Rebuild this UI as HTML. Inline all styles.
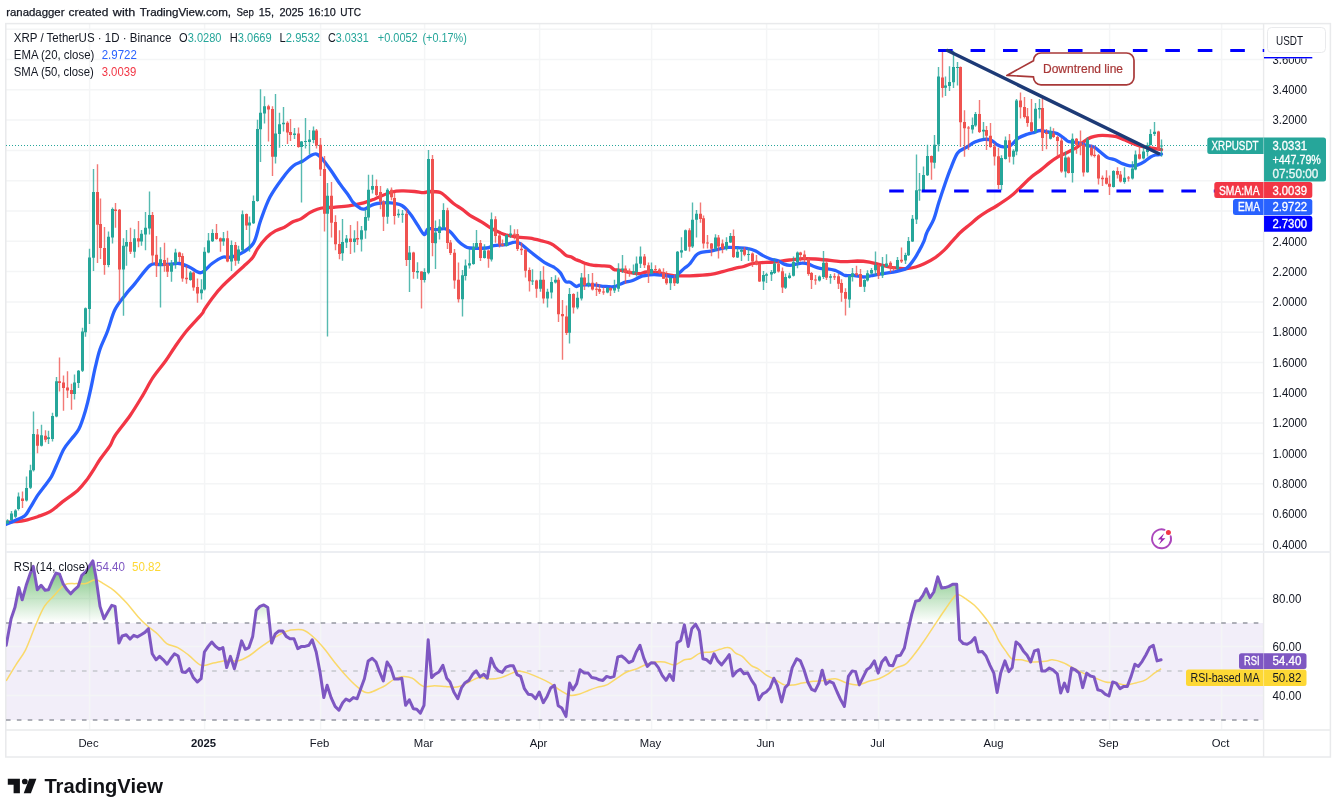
<!DOCTYPE html>
<html lang="en"><head><meta charset="utf-8"><title>XRP / TetherUS chart</title>
<style>html,body{margin:0;padding:0;background:#fff}body{width:1337px;height:810px;overflow:hidden}</style></head>
<body>
<svg width="1337" height="810" viewBox="0 0 1337 810" style="display:block;font-family:'Liberation Sans', sans-serif">
<rect width="1337" height="810" fill="#fff"/>
<defs>
<clipPath id="cpMain"><rect x="6" y="23" width="1257.5" height="528"/></clipPath>
<clipPath id="cpRsi"><rect x="6" y="553" width="1257.5" height="176.5"/></clipPath>
<linearGradient id="gOB" gradientUnits="userSpaceOnUse" x1="0" y1="552" x2="0" y2="622.5"><stop offset="0" stop-color="#4caf50" stop-opacity="0.95"/><stop offset="1" stop-color="#4caf50" stop-opacity="0"/></linearGradient>
</defs>
<rect x="6" y="623" width="1257.5" height="97" fill="#7e57c2" fill-opacity="0.1"/>
<path d="M89.6 23V729.5 M204.6 23V729.5 M320.6 23V729.5 M424.6 23V729.5 M539.6 23V729.5 M651.6 23V729.5 M766.6 23V729.5 M878.6 23V729.5 M994.6 23V729.5 M1109.6 23V729.5 M1221.6 23V729.5 M6 29.2H1263.5 M6 59.5H1263.5 M6 89.8H1263.5 M6 120.1H1263.5 M6 150.4H1263.5 M6 180.7H1263.5 M6 211.0H1263.5 M6 241.3H1263.5 M6 271.6H1263.5 M6 301.9H1263.5 M6 332.2H1263.5 M6 362.5H1263.5 M6 392.8H1263.5 M6 423.1H1263.5 M6 453.4H1263.5 M6 483.7H1263.5 M6 514.0H1263.5 M6 544.3H1263.5 M6 598.5H1263.5 M6 646.5H1263.5 M6 695.5H1263.5" stroke="#f4f5f6" stroke-width="1.5" fill="none"/>
<rect x="5.8" y="23.6" width="1324.6" height="733.4" fill="none" stroke="#e9eaec" stroke-width="1.5"/>
<path d="M1263.6 23V757 M6 730H1330" stroke="#e9eaec" stroke-width="1.4" fill="none"/>
<rect x="6" y="551" width="1324.5" height="2" fill="#eceef2"/>
<path d="M6 623.0H1263.5" stroke="#9598a1" stroke-width="1.6" stroke-dasharray="4.6 6.25" fill="none"/>
<path d="M6 671.0H1263.5" stroke="#c5c7cd" stroke-width="1.6" stroke-dasharray="4.6 6.25" fill="none"/>
<path d="M6 720.0H1263.5" stroke="#9598a1" stroke-width="1.6" stroke-dasharray="4.6 6.25" fill="none"/>
<path d="M6 145.5H1207" stroke="#26a69a" stroke-width="1" stroke-dasharray="1 2" fill="none"/>
<g clip-path="url(#cpMain)">
<path d="M6.3 522.4C7.7 522.3 11.9 522.0 15.0 521.7C18.2 521.4 21.3 521.3 25.1 520.4C28.8 519.6 33.4 518.1 37.6 516.7C41.8 515.2 45.9 514.2 50.1 511.7C54.3 509.2 58.1 505.2 62.7 501.6C67.3 498.1 73.7 493.9 77.7 490.4C81.7 486.8 83.8 483.9 86.5 480.3C89.2 476.8 91.7 472.6 94.0 469.1C96.3 465.5 97.5 463.0 100.3 459.0C103.0 455.1 107.8 449.2 110.3 445.3C112.8 441.3 111.9 440.2 115.3 435.2C118.6 430.2 125.7 421.9 130.3 415.2C134.9 408.5 139.1 401.4 142.9 395.1C146.6 388.9 149.1 383.3 152.9 377.6C156.7 371.8 162.1 365.8 165.7 360.7C169.4 355.6 171.2 352.2 174.7 347.2C178.2 342.2 182.2 336.3 186.7 330.8C191.2 325.3 198.6 317.9 201.6 314.3C204.6 310.7 202.6 312.1 204.6 309.1C206.6 306.1 210.6 300.2 213.6 296.4C216.6 292.5 219.1 289.5 222.6 285.9C226.1 282.3 231.1 277.9 234.5 274.7C238.0 271.4 240.5 269.3 243.5 266.5C246.5 263.6 250.2 260.6 252.5 257.7C254.8 254.8 255.2 252.2 257.5 248.9C259.8 245.5 263.5 240.6 266.5 237.6C269.4 234.6 272.4 232.6 275.4 230.9C278.4 229.2 281.4 228.7 284.4 227.2C287.4 225.6 290.6 223.0 293.4 221.6C296.1 220.3 298.1 220.4 300.9 218.9C303.6 217.4 307.1 214.3 309.8 212.7C312.6 211.0 314.8 210.0 317.3 209.2C319.8 208.4 322.1 208.0 324.8 207.7C327.5 207.4 329.8 207.6 333.8 207.3C337.8 206.9 343.7 206.5 348.7 205.8C353.7 205.0 359.4 203.9 363.7 202.8C367.9 201.7 371.4 200.2 374.2 199.2C376.9 198.1 377.2 197.6 380.1 196.4C383.1 195.2 388.4 192.9 392.1 192.0C395.8 191.0 398.8 191.0 402.6 190.9C406.3 190.8 411.1 191.2 414.5 191.5C418.0 191.8 421.0 192.7 423.5 192.7C426.0 192.7 426.8 191.6 429.5 191.5C432.2 191.5 437.2 191.5 440.0 192.4C442.7 193.3 443.7 194.9 446.0 196.7C448.2 198.6 450.7 201.3 453.5 203.5C456.2 205.6 459.7 207.5 462.4 209.4C465.2 211.4 466.7 213.3 469.9 215.4C473.2 217.5 478.4 220.0 481.9 222.2C485.4 224.3 487.9 226.4 490.9 228.1C493.9 229.9 497.3 231.5 499.8 232.6C502.3 233.8 502.8 234.1 505.8 234.9C508.8 235.6 513.8 236.6 517.8 237.1C521.8 237.7 525.8 237.5 529.8 238.2C533.7 238.8 538.2 240.0 541.7 240.9C545.2 241.8 547.7 242.1 550.7 243.6C553.7 245.0 557.1 247.9 559.7 249.8C562.2 251.8 564.1 254.1 566.0 255.3C567.8 256.5 569.2 256.1 570.8 256.8C572.4 257.5 574.0 258.7 575.6 259.5C577.2 260.2 578.8 260.6 580.4 261.3C582.0 261.9 583.6 262.8 585.1 263.4C586.7 263.9 588.1 264.2 589.9 264.6C591.7 264.9 593.9 265.3 595.9 265.5C597.9 265.7 599.6 265.7 601.9 265.9C604.2 266.0 607.7 265.8 609.7 266.4C611.7 267.0 612.6 268.8 613.9 269.4C615.2 270.0 616.1 269.8 617.5 270.0C618.9 270.2 620.4 270.3 622.3 270.7C624.2 271.1 626.8 271.9 628.9 272.4C631.0 272.8 633.0 273.1 634.9 273.3C636.7 273.5 638.1 273.8 640.1 273.6C642.0 273.4 643.6 272.2 646.5 272.0C649.3 271.9 653.7 272.1 656.9 272.5C660.2 272.9 662.9 273.7 665.9 274.3C668.9 274.8 670.9 275.5 674.9 275.8C678.9 276.0 683.9 276.0 689.8 275.8C695.8 275.5 705.3 275.0 710.8 274.3C716.3 273.6 718.8 272.6 722.7 271.6C726.7 270.6 731.2 269.1 734.7 268.3C738.2 267.5 740.7 267.3 743.7 266.5C746.7 265.7 749.7 264.2 752.7 263.5C755.7 262.9 758.1 262.9 761.6 262.6C765.1 262.4 770.1 262.3 773.6 262.0C777.1 261.7 779.3 261.2 782.6 260.8C785.8 260.4 789.6 260.0 793.1 259.6C796.5 259.2 799.8 258.7 803.5 258.6C807.3 258.5 810.7 258.7 815.5 259.0C820.2 259.4 827.2 260.1 832.0 260.6C836.7 261.0 839.7 261.6 843.9 261.6C848.2 261.7 853.2 261.0 857.4 261.0C861.6 261.1 865.6 261.5 869.4 262.1C873.1 262.7 876.6 263.8 879.8 264.6C883.1 265.4 885.8 266.4 888.8 267.0C891.8 267.6 894.8 267.8 897.8 268.1C900.8 268.3 903.8 268.7 906.8 268.5C909.8 268.3 912.7 267.8 915.7 267.0C918.7 266.2 921.5 265.1 924.7 263.6C928.0 262.0 931.9 259.8 935.2 257.6C938.4 255.3 941.4 252.7 944.2 250.1C946.9 247.5 948.9 244.9 951.6 241.9C954.4 238.9 957.6 235.0 960.6 232.2C963.6 229.3 966.6 227.2 969.6 224.7C972.6 222.2 975.6 219.4 978.6 217.2C981.6 215.0 984.5 213.1 987.5 211.2C990.5 209.3 992.7 208.5 996.5 206.0C1000.4 203.5 1006.8 199.3 1010.7 196.3C1014.6 193.3 1016.2 191.3 1019.7 188.1C1023.2 184.8 1028.1 179.8 1031.6 176.8C1035.1 173.9 1037.6 172.5 1040.6 170.1C1043.6 167.7 1046.8 164.8 1049.6 162.6C1052.3 160.5 1054.6 158.9 1057.1 157.4C1059.6 155.9 1061.4 155.2 1064.5 153.7C1067.7 152.1 1072.8 149.8 1076.0 147.9C1079.1 145.9 1081.0 143.6 1083.5 141.9C1086.0 140.1 1088.4 138.4 1090.9 137.4C1093.4 136.4 1095.7 135.9 1098.4 135.6C1101.2 135.3 1104.4 135.4 1107.4 135.6C1110.4 135.8 1113.6 136.0 1116.4 136.6C1119.1 137.3 1121.1 138.5 1123.9 139.6C1126.6 140.8 1129.8 142.3 1132.8 143.4C1135.8 144.5 1138.8 145.6 1141.8 146.4C1144.8 147.1 1147.5 147.3 1150.8 147.9C1154.1 148.4 1159.8 149.4 1161.5 149.7" stroke="#f23645" stroke-width="3.3" fill="none" stroke-linejoin="round" stroke-linecap="round"/>
<path d="M6.3 524.2C7.7 523.6 11.9 521.9 15.0 520.4C18.2 519.0 22.6 517.5 25.1 515.4C27.6 513.3 28.0 511.2 30.1 507.9C32.2 504.6 35.1 499.1 37.6 495.4C40.1 491.6 42.8 488.5 45.1 485.4C47.4 482.2 49.3 480.3 51.4 476.6C53.5 472.8 55.6 467.4 57.6 462.8C59.7 458.2 61.6 453.0 63.9 449.0C66.2 445.0 68.9 442.3 71.4 439.0C73.9 435.6 76.6 433.6 78.9 429.0C81.2 424.4 83.3 417.7 85.2 411.4C87.1 405.2 88.6 398.7 90.2 391.4C91.9 384.1 93.6 374.5 95.2 367.6C96.9 360.6 97.9 355.5 99.9 349.5C101.9 343.5 104.9 338.1 107.4 331.5C109.9 324.9 111.9 315.9 114.9 309.8C117.9 303.7 122.1 299.1 125.3 294.9C128.6 290.6 130.2 289.3 134.3 284.4C138.4 279.5 145.8 268.7 150.0 265.4C154.3 262.1 156.1 264.9 159.8 264.7C163.4 264.5 168.5 264.4 171.7 264.2C175.0 264.0 176.2 263.0 179.2 263.5C182.2 264.0 186.1 265.7 189.7 267.2C193.3 268.7 197.2 273.4 200.9 272.7C204.6 272.1 208.5 266.1 212.1 263.5C215.7 260.9 219.8 258.2 222.6 257.2C225.3 256.2 225.8 257.9 228.6 257.5C231.3 257.0 234.9 256.8 239.0 254.5C243.1 252.2 249.6 249.2 253.2 243.5C256.9 237.8 257.9 228.0 260.7 220.3C263.5 212.6 266.3 204.2 270.0 197.1C273.7 190.0 279.0 183.0 282.9 177.7C286.8 172.5 290.1 168.5 293.4 165.8C296.6 163.0 299.4 163.0 302.4 161.3C305.3 159.5 309.0 156.5 311.3 155.3C313.7 154.1 314.8 153.6 316.6 154.1C318.3 154.6 319.4 155.6 321.8 158.3C324.2 161.0 327.8 166.0 330.8 170.3C333.8 174.5 336.8 179.5 339.8 183.7C342.7 188.0 346.5 192.6 348.7 195.7C351.0 198.8 351.2 200.4 353.2 202.5C355.2 204.6 358.7 207.4 360.7 208.5C362.7 209.5 363.4 209.3 365.2 208.8C366.9 208.3 369.2 206.3 371.2 205.5C373.2 204.6 373.9 204.0 377.2 203.5C380.4 203.1 386.5 202.5 390.6 202.8C394.7 203.1 398.6 203.7 401.8 205.5C405.1 207.3 407.4 210.5 410.1 213.7C412.7 216.9 415.2 221.4 417.5 224.9C419.9 228.4 422.5 234.0 424.3 234.6C426.0 235.3 426.1 229.5 428.0 228.7C429.9 227.8 432.7 229.7 435.5 229.7C438.2 229.7 442.0 228.3 444.5 228.7C447.0 229.0 448.2 229.9 450.5 231.9C452.7 233.9 455.7 238.6 458.0 240.9C460.2 243.2 461.9 244.5 463.9 245.6C465.9 246.8 466.2 247.6 469.9 248.0C473.7 248.4 482.4 248.4 486.4 248.0C490.4 247.6 490.6 246.2 493.9 245.6C497.1 245.1 502.3 245.2 505.8 244.6C509.3 244.0 512.3 242.2 514.8 242.1C517.3 241.9 518.3 242.3 520.8 243.9C523.3 245.4 525.8 248.2 529.8 251.3C533.7 254.4 540.7 259.9 544.7 262.6C548.7 265.2 551.1 265.4 553.7 267.0C556.2 268.7 558.0 270.0 560.0 272.4C562.0 274.8 563.7 279.7 565.4 281.3C567.1 283.0 568.4 281.4 570.2 282.2C572.0 283.1 574.6 285.9 576.2 286.4C577.8 286.9 578.0 285.5 579.8 285.2C581.6 285.0 584.3 284.9 586.9 284.9C589.6 284.9 592.9 285.0 595.9 285.2C598.9 285.5 601.9 286.2 604.9 286.4C607.9 286.7 611.4 287.1 613.9 286.7C616.4 286.4 618.0 285.1 619.9 284.3C621.8 283.6 623.3 282.8 625.3 282.2C627.3 281.6 629.4 281.6 631.9 280.7C634.3 279.9 638.1 277.7 640.1 276.9C642.0 276.0 641.2 276.2 643.5 275.8C645.8 275.4 650.4 274.6 653.9 274.6C657.4 274.5 660.9 275.2 664.4 275.5C667.9 275.8 672.4 277.0 674.9 276.5C677.4 276.1 677.6 274.3 679.4 272.8C681.1 271.3 683.6 269.0 685.3 267.6C687.1 266.1 688.1 265.8 689.8 263.8C691.6 261.8 694.1 257.5 695.8 255.6C697.6 253.7 697.8 253.3 700.3 252.6C702.8 251.8 707.5 251.7 710.8 251.1C714.0 250.5 716.8 249.5 719.8 248.9C722.7 248.2 725.7 247.6 728.7 247.4C731.7 247.2 734.5 247.5 737.7 247.7C740.9 247.9 745.2 248.0 748.2 248.6C751.2 249.1 753.2 249.9 755.7 251.1C758.1 252.3 760.6 254.3 763.1 255.6C765.6 256.9 768.1 258.2 770.6 259.0C773.1 259.9 775.8 260.0 778.1 260.8C780.3 261.7 782.1 263.4 784.1 264.1C786.1 264.9 788.1 265.3 790.1 265.3C792.1 265.3 794.0 264.5 796.0 264.1C798.0 263.7 800.0 263.1 802.0 263.1C804.0 263.0 806.0 263.2 808.0 263.8C810.0 264.4 812.0 265.8 814.0 266.5C816.0 267.3 817.7 267.9 820.0 268.3C822.2 268.7 825.0 268.5 827.5 268.8C830.0 269.1 832.7 269.6 835.0 270.3C837.2 271.1 839.2 272.4 840.9 273.3C842.7 274.2 843.2 275.2 845.4 275.5C847.7 275.9 851.4 275.3 854.4 275.5C857.4 275.8 860.4 277.0 863.4 277.0C866.4 277.0 869.1 276.1 872.4 275.5C875.6 275.0 879.3 274.2 882.8 273.6C886.3 273.0 890.3 272.7 893.3 272.1C896.3 271.6 898.5 271.0 900.8 270.3C903.0 269.6 904.8 269.6 906.8 268.1C908.8 266.6 910.8 264.1 912.7 261.3C914.7 258.6 916.9 255.0 918.7 251.6C920.6 248.2 922.6 244.4 924.0 241.1C925.3 237.9 925.3 235.8 927.0 232.2C928.6 228.5 931.7 224.4 933.7 219.4C935.7 214.5 937.0 208.1 938.9 202.3C940.8 196.4 942.9 190.1 944.9 184.3C946.9 178.6 948.7 173.1 950.9 167.9C953.0 162.6 955.1 156.3 957.6 152.9C960.1 149.5 963.0 149.5 965.8 147.7C968.7 145.9 971.8 143.5 974.8 142.1C977.8 140.8 981.0 139.8 983.8 139.4C986.5 139.1 989.0 139.3 991.2 140.2C993.5 141.1 995.2 143.6 997.2 144.7C999.2 145.8 1001.0 146.8 1003.2 146.9C1005.5 147.1 1008.2 146.9 1010.7 145.4C1013.2 144.0 1015.4 140.1 1018.2 138.2C1020.9 136.4 1024.4 135.2 1027.2 134.2C1029.9 133.2 1032.5 132.9 1034.6 132.3C1036.7 131.6 1037.6 130.5 1039.9 130.5C1042.1 130.4 1045.2 131.5 1048.1 132.0C1051.0 132.5 1054.3 132.3 1057.1 133.5C1059.8 134.6 1062.6 137.3 1064.5 138.7C1066.5 140.1 1066.9 141.0 1069.0 141.7C1071.2 142.3 1074.8 142.1 1077.5 142.6C1080.1 143.2 1082.2 144.1 1085.0 144.9C1087.7 145.6 1091.4 146.0 1093.9 147.1C1096.4 148.2 1097.7 149.9 1099.9 151.6C1102.2 153.4 1104.9 156.2 1107.4 157.6C1109.9 159.0 1112.4 158.8 1114.9 159.8C1117.4 160.8 1119.9 162.6 1122.4 163.6C1124.8 164.6 1127.3 165.6 1129.8 165.8C1132.3 166.1 1134.8 165.8 1137.3 165.1C1139.8 164.3 1142.6 162.7 1144.8 161.3C1147.0 160.0 1149.0 157.9 1150.8 156.8C1152.5 155.8 1153.5 155.5 1155.3 155.0C1157.1 154.6 1160.5 154.3 1161.5 154.2" stroke="#2962ff" stroke-width="3.3" fill="none" stroke-linejoin="round" stroke-linecap="round"/>
<path d="M7.5 519.2V523.9M11.5 510.9V520.4M15.5 509.2V517.9M18.5 492.4V510.4M26.5 476.6V501.6M30.5 464.8V489.1M33.5 411.4V471.6M41.5 424.7V446.5M48.5 430.7V444.0M52.5 412.7V441.5M56.5 377.1V417.2M74.5 374.6V399.6M78.5 370.1V388.1M82.5 327.8V372.1M85.5 307.6V336.8M89.5 248.7V324.0M93.5 169.1V270.9M108.5 231.5V267.2M112.5 207.6V243.5M123.5 238.3V315.8M126.5 230.0V265.7M134.5 229.3V257.8M141.5 230.0V245.7M145.5 212.1V250.2M149.5 191.6V234.5M160.5 247.2V307.6M171.5 259.9V281.7M175.5 248.7V268.7M190.5 270.9V280.7M201.5 279.2V299.4M204.5 247.2V290.4M208.5 233.0V253.2M212.5 229.3V242.0M223.5 232.0V245.7M231.5 240.5V270.9M238.5 245.7V263.8M242.5 210.6V251.7M249.5 216.6V251.7M253.5 195.6V224.0M257.5 119.7V201.7M260.5 89.2V162.0M264.5 96.2V123.6M275.5 94.0V163.5M279.5 112.7V147.8M283.5 107.1V131.4M294.5 128.1V138.9M301.5 141.1V202.4M305.5 117.9V148.6M309.5 129.9V154.6M313.5 126.6V143.3M327.5 183.0V336.4M342.5 218.9V260.8M346.5 235.1V248.1M354.5 230.2V252.6M361.5 226.1V251.5M365.5 209.2V238.7M368.5 174.8V220.7M372.5 174.8V193.5M387.5 188.2V223.7M398.5 209.2V217.7M402.5 210.0V222.7M409.5 245.9V291.9M417.5 262.3V278.8M424.5 268.3V282.5M428.5 150.1V274.3M435.5 220.4V269.0M439.5 219.2V239.6M443.5 203.2V229.7M462.5 270.0V316.4M465.5 259.6V280.5M469.5 249.1V268.5M473.5 243.1V264.8M476.5 230.1V248.3M484.5 244.2V258.5M491.5 212.4V261.5M506.5 234.6V246.5M510.5 225.2V237.9M532.5 269.3V285.0M540.5 271.1V291.7M547.5 288.7V307.4M551.5 277.1V298.5M555.5 275.3V283.5M569.5 288.0V343.6M577.5 291.7V309.2M581.5 273.0V300.4M588.5 274.1V287.2M607.5 286.9V293.2M614.5 279.8V292.9M618.5 263.3V291.7M622.5 255.1V273.0M633.5 264.6V275.0M636.5 256.6V276.5M640.5 246.6V268.0M651.5 262.6V274.3M670.5 277.0V290.0M677.5 251.1V284.0M681.5 237.2V257.8M685.5 229.4V251.1M692.5 202.5V248.1M696.5 210.0V237.6M715.5 234.2V251.1M726.5 237.2V250.6M730.5 233.1V242.9M737.5 247.1V258.1M741.5 247.4V261.1M748.5 248.1V261.1M763.5 271.0V290.0M766.5 272.8V283.0M771.5 270.1V281.0M774.5 258.6V274.0M785.5 273.5V288.9M789.5 272.8V278.8M793.5 256.6V276.5M797.5 251.5V268.3M819.5 275.5V281.5M823.5 250.9V279.0M830.5 274.0V283.8M849.5 275.5V307.7M852.5 268.1V281.5M864.5 279.3V292.0M867.5 270.3V281.5M871.5 268.1V274.8M875.5 251.6V275.5M882.5 257.1V278.1M886.5 254.2V267.3M897.5 257.1V270.0M905.5 252.7V264.0M908.5 237.1V256.1M912.5 215.0V241.9M916.5 154.4V224.0M919.5 173.1V200.8M923.5 166.4V191.1M927.5 144.7V176.1M934.5 135.0V168.6M938.5 66.9V151.4M945.5 76.6V96.1M949.5 66.2V90.9M953.5 50.8V87.9M957.5 62.1V85.6M972.5 117.5V133.5M975.5 112.1V126.8M983.5 122.0V138.7M1001.5 155.2V190.3M1005.5 136.5V159.6M1013.5 149.2V164.6M1016.5 99.1V155.2M1035.5 103.1V133.5M1039.5 99.1V118.5M1050.5 126.8V139.5M1065.5 151.4V177.6M1072.5 133.5V182.5M1087.5 137.2V172.7M1113.5 170.3V187.5M1124.5 167.3V183.8M1132.5 161.3V179.6M1135.5 150.6V170.3M1143.5 147.9V159.5M1147.5 142.6V156.5M1150.5 129.2V145.6M1154.5 122.1V135.9M1161.5 139.6V156.8" stroke="#26a69a" stroke-width="1.4" stroke-opacity="0.78" fill="none"/>
<path d="M22.5 491.6V507.9M37.5 429.0V453.3M45.5 430.2V442.2M59.5 357.5V391.4M63.5 375.6V410.7M67.5 371.3V398.1M71.5 383.8V409.7M97.5 164.2V262.9M100.5 198.6V259.0M104.5 227.0V274.7M115.5 203.1V227.8M119.5 209.1V301.6M130.5 227.8V254.0M138.5 221.1V247.2M152.5 212.1V263.5M156.5 236.0V276.9M164.5 242.7V271.7M167.5 257.7V276.9M179.5 251.7V262.0M182.5 253.2V281.7M186.5 265.7V283.7M193.5 271.4V290.7M197.5 278.4V302.7M216.5 224.0V239.8M220.5 237.5V251.7M227.5 230.8V262.2M235.5 242.0V265.7M246.5 213.6V230.0M268.5 104.7V141.5M272.5 106.2V175.9M287.5 121.2V144.1M290.5 119.1V141.1M298.5 127.6V147.8M316.5 129.1V148.6M320.5 138.1V175.9M324.5 156.1V231.6M331.5 181.9V237.6M335.5 215.2V250.3M339.5 230.2V259.3M350.5 224.9V254.1M357.5 221.2V245.1M376.5 179.5V196.4M380.5 186.0V209.2M383.5 200.2V230.9M391.5 187.5V200.2M394.5 192.7V224.6M406.5 209.2V266.1M413.5 251.8V278.8M421.5 271.3V308.4M432.5 155.0V256.3M447.5 207.7V249.1M450.5 240.1V255.1M454.5 249.1V288.7M458.5 262.6V302.5M480.5 240.1V261.1M488.5 249.5V267.8M495.5 216.2V242.7M499.5 233.4V247.6M502.5 239.4V246.5M514.5 229.2V239.4M517.5 229.2V251.0M521.5 242.4V255.1M525.5 249.1V277.5M529.5 267.5V291.4M536.5 279.8V297.7M543.5 266.3V303.4M558.5 277.5V322.1M562.5 299.9V359.8M566.5 305.6V335.1M573.5 293.2V313.4M584.5 264.8V289.9M592.5 273.0V290.5M596.5 282.0V295.9M599.5 284.2V294.0M603.5 287.2V294.7M610.5 287.2V295.9M625.5 265.5V283.9M629.5 268.5V276.8M644.5 254.1V268.0M648.5 262.6V283.0M655.5 265.3V272.8M659.5 268.3V274.3M663.5 268.3V279.1M666.5 271.3V284.8M674.5 275.0V285.9M689.5 228.2V251.5M700.5 202.5V222.7M703.5 215.6V248.6M707.5 235.1V248.6M711.5 242.9V256.3M718.5 235.1V258.6M722.5 239.6V253.3M733.5 229.4V258.1M744.5 247.1V256.3M752.5 252.6V267.1M756.5 255.1V265.3M759.5 263.5V282.1M778.5 260.8V272.5M782.5 267.6V293.0M800.5 251.8V261.6M804.5 250.6V262.3M808.5 257.8V275.8M811.5 272.0V288.9M815.5 275.0V284.8M826.5 261.3V280.0M834.5 273.3V280.0M838.5 274.0V289.0M841.5 279.3V301.7M845.5 288.3V315.5M856.5 265.8V276.3M860.5 269.1V287.1M878.5 264.3V279.0M890.5 261.3V272.6M893.5 266.6V271.1M901.5 247.6V263.1M931.5 155.6V179.8M942.5 50.5V97.6M960.5 66.6V146.9M964.5 110.3V156.7M968.5 126.0V149.9M979.5 100.1V133.0M986.5 126.0V149.9M990.5 123.0V147.7M994.5 143.2V165.6M998.5 147.7V189.1M1009.5 133.9V162.6M1020.5 92.4V118.5M1024.5 97.1V118.5M1027.5 108.1V126.8M1031.5 99.1V132.0M1042.5 97.1V151.0M1046.5 129.0V149.2M1053.5 128.3V138.0M1057.5 135.7V156.6M1061.5 138.0V172.7M1068.5 156.6V173.6M1076.5 138.0V153.7M1080.5 130.5V155.2M1083.5 142.4V176.5M1091.5 144.7V156.6M1094.5 146.2V157.4M1098.5 153.9V184.5M1102.5 175.5V186.0M1106.5 170.3V184.5M1109.5 175.5V195.0M1117.5 167.3V178.5M1120.5 171.1V182.6M1128.5 176.0V181.5M1139.5 145.6V159.5M1158.5 130.7V150.1" stroke="#ef5350" stroke-width="1.4" stroke-opacity="0.78" fill="none"/>
<path d="M6 520.4h3v3.0h-3zM10 513.4h3v6.5h-3zM14 510.4h3v6.3h-3zM17 496.6h3v12.5h-3zM25 487.9h3v12.5h-3zM29 470.3h3v17.5h-3zM32 434.0h3v36.3h-3zM40 435.2h3v10.5h-3zM47 437.2h3v1.8h-3zM51 415.9h3v23.1h-3zM55 381.3h3v35.1h-3zM73 382.6h3v11.3h-3zM77 370.8h3v12.3h-3zM81 331.5h3v39.3h-3zM84 308.3h3v23.9h-3zM88 257.5h3v51.6h-3zM92 191.9h3v65.8h-3zM107 236.8h3v28.2h-3zM111 209.1h3v28.4h-3zM122 245.7h3v23.7h-3zM125 242.0h3v4.5h-3zM133 238.3h3v13.5h-3zM140 233.8h3v7.8h-3zM144 227.8h3v6.7h-3zM148 215.1h3v13.5h-3zM159 259.2h3v6.5h-3zM170 263.5h3v8.2h-3zM174 252.5h3v11.0h-3zM189 272.4h3v7.5h-3zM200 289.6h3v3.7h-3zM203 251.7h3v37.9h-3zM207 240.5h3v12.0h-3zM211 233.0h3v8.2h-3zM222 238.3h3v3.3h-3zM230 245.0h3v16.5h-3zM237 249.5h3v11.2h-3zM241 214.3h3v35.9h-3zM248 222.6h3v3.0h-3zM252 200.9h3v22.4h-3zM256 129.1h3v71.8h-3zM259 112.7h3v16.5h-3zM263 106.2h3v7.2h-3zM274 133.6h3v23.2h-3zM278 124.2h3v9.9h-3zM282 122.7h3v1.5h-3zM293 133.6h3v1.5h-3zM300 141.5h3v5.5h-3zM304 141.1h3v1.0h-3zM308 139.6h3v2.5h-3zM312 130.6h3v9.4h-3zM326 195.7h3v18.0h-3zM341 242.1h3v11.2h-3zM345 238.4h3v4.2h-3zM353 238.4h3v3.7h-3zM360 230.2h3v9.4h-3zM364 217.1h3v13.5h-3zM367 189.7h3v27.7h-3zM371 186.0h3v3.7h-3zM386 189.7h3v27.0h-3zM397 213.7h3v1.5h-3zM401 213.7h3v1.0h-3zM408 252.6h3v7.5h-3zM416 271.0h3v1.5h-3zM423 272.0h3v7.9h-3zM427 159.0h3v113.7h-3zM434 232.4h3v10.8h-3zM438 226.4h3v6.7h-3zM442 210.0h3v17.2h-3zM461 275.3h3v23.9h-3zM464 265.5h3v10.5h-3zM468 263.3h3v2.2h-3zM472 247.1h3v16.9h-3zM475 243.1h3v4.5h-3zM483 250.6h3v7.5h-3zM490 219.2h3v40.4h-3zM505 234.9h3v10.8h-3zM509 233.4h3v1.8h-3zM531 280.5h3v1.0h-3zM539 279.8h3v9.0h-3zM546 291.7h3v6.7h-3zM550 282.0h3v10.5h-3zM554 279.8h3v2.7h-3zM568 293.9h3v38.9h-3zM576 297.7h3v9.7h-3zM580 277.5h3v20.9h-3zM587 282.7h3v2.2h-3zM606 288.0h3v4.5h-3zM613 288.0h3v2.5h-3zM617 269.3h3v19.4h-3zM621 268.5h3v1.5h-3zM632 271.3h3v2.2h-3zM635 263.5h3v8.5h-3zM639 256.6h3v7.2h-3zM650 269.0h3v4.5h-3zM669 278.0h3v5.2h-3zM676 251.8h3v31.4h-3zM680 250.3h3v2.2h-3zM684 230.2h3v20.2h-3zM691 219.7h3v26.9h-3zM695 213.7h3v6.0h-3zM714 237.6h3v11.2h-3zM725 242.1h3v6.7h-3zM729 236.1h3v6.4h-3zM736 251.8h3v5.7h-3zM740 250.0h3v1.8h-3zM747 254.1h3v1.0h-3zM762 275.0h3v6.4h-3zM765 274.3h3v1.5h-3zM770 272.0h3v2.5h-3zM773 263.5h3v9.6h-3zM784 277.0h3v10.8h-3zM788 275.5h3v2.5h-3zM792 262.0h3v13.8h-3zM796 252.6h3v9.7h-3zM818 276.5h3v4.0h-3zM822 262.8h3v14.2h-3zM829 276.3h3v1.5h-3zM848 276.3h3v23.2h-3zM851 273.3h3v3.7h-3zM863 280.0h3v6.7h-3zM866 273.3h3v7.2h-3zM870 270.0h3v3.6h-3zM874 265.1h3v5.2h-3zM881 265.8h3v9.7h-3zM885 263.6h3v3.0h-3zM896 260.1h3v8.7h-3zM904 255.0h3v5.5h-3zM907 241.1h3v14.2h-3zM911 218.7h3v22.9h-3zM915 190.3h3v29.2h-3zM918 189.6h3v1.0h-3zM922 175.0h3v15.3h-3zM926 155.9h3v19.4h-3zM933 144.7h3v18.0h-3zM937 76.6h3v68.0h-3zM944 85.6h3v2.2h-3zM948 81.9h3v4.2h-3zM952 66.9h3v15.3h-3zM956 66.9h3v1.0h-3zM971 125.0h3v4.5h-3zM974 114.0h3v11.5h-3zM982 129.8h3v1.8h-3zM1000 158.1h3v26.9h-3zM1004 140.2h3v18.7h-3zM1012 150.7h3v6.0h-3zM1015 100.6h3v50.8h-3zM1034 108.8h3v22.4h-3zM1038 108.1h3v1.5h-3zM1049 131.2h3v7.5h-3zM1064 157.4h3v14.2h-3zM1071 138.7h3v34.4h-3zM1086 139.4h3v32.9h-3zM1112 171.1h3v16.0h-3zM1123 177.8h3v4.2h-3zM1131 168.5h3v10.0h-3zM1134 154.6h3v15.0h-3zM1142 151.6h3v7.0h-3zM1146 144.9h3v7.2h-3zM1149 134.1h3v10.8h-3zM1153 131.7h3v2.4h-3zM1160 145.5h3v1.0h-3z" fill="#26a69a"/>
<path d="M21 498.4h3v2.5h-3zM36 434.5h3v11.3h-3zM44 435.7h3v4.0h-3zM58 381.3h3v1.8h-3zM62 382.6h3v5.5h-3zM66 387.6h3v3.0h-3zM70 390.1h3v3.8h-3zM96 191.9h3v32.9h-3zM99 224.0h3v23.9h-3zM103 248.0h3v17.0h-3zM114 209.5h3v1.5h-3zM118 209.8h3v59.6h-3zM129 242.0h3v9.7h-3zM137 238.3h3v3.3h-3zM151 215.1h3v40.4h-3zM155 254.7h3v11.0h-3zM163 259.9h3v5.8h-3zM166 264.2h3v7.5h-3zM178 252.5h3v4.6h-3zM181 256.0h3v22.4h-3zM185 277.7h3v1.5h-3zM192 272.4h3v15.0h-3zM196 287.1h3v6.3h-3zM215 233.0h3v6.0h-3zM219 238.3h3v3.3h-3zM226 238.3h3v23.2h-3zM234 245.0h3v15.7h-3zM245 214.0h3v11.5h-3zM267 106.2h3v3.4h-3zM271 108.9h3v47.9h-3zM286 122.7h3v9.9h-3zM289 132.1h3v3.0h-3zM297 133.6h3v13.5h-3zM315 130.6h3v15.0h-3zM319 144.8h3v24.7h-3zM323 169.1h3v44.6h-3zM330 195.7h3v27.0h-3zM334 221.9h3v22.4h-3zM338 244.1h3v10.0h-3zM349 238.4h3v3.7h-3zM356 238.1h3v1.5h-3zM375 186.0h3v9.0h-3zM379 192.0h3v9.8h-3zM382 201.7h3v15.0h-3zM390 189.7h3v7.5h-3zM393 197.9h3v18.0h-3zM405 213.7h3v46.4h-3zM412 252.6h3v19.4h-3zM420 271.6h3v8.4h-3zM431 159.0h3v84.1h-3zM446 210.2h3v32.9h-3zM449 242.4h3v10.5h-3zM453 252.8h3v27.7h-3zM457 279.8h3v19.4h-3zM479 243.1h3v15.0h-3zM487 250.6h3v8.2h-3zM494 219.2h3v16.9h-3zM498 235.6h3v9.0h-3zM501 244.2h3v1.5h-3zM513 233.7h3v1.0h-3zM516 234.1h3v15.0h-3zM520 248.8h3v1.5h-3zM524 249.8h3v20.9h-3zM528 270.0h3v11.2h-3zM535 280.5h3v8.2h-3zM542 279.8h3v18.7h-3zM557 279.8h3v34.4h-3zM561 314.1h3v2.2h-3zM565 316.4h3v16.5h-3zM572 294.0h3v13.4h-3zM583 277.5h3v7.5h-3zM591 282.7h3v6.7h-3zM595 288.7h3v1.0h-3zM598 289.0h3v2.7h-3zM602 291.4h3v1.0h-3zM609 288.0h3v2.5h-3zM624 268.5h3v3.7h-3zM628 270.8h3v3.0h-3zM643 256.6h3v8.7h-3zM647 265.3h3v8.2h-3zM654 269.0h3v1.0h-3zM658 269.5h3v3.3h-3zM662 272.0h3v6.7h-3zM665 278.5h3v4.8h-3zM673 278.0h3v5.2h-3zM688 230.2h3v16.5h-3zM699 213.7h3v5.2h-3zM702 218.2h3v25.4h-3zM706 242.6h3v1.0h-3zM710 243.6h3v5.2h-3zM717 237.6h3v9.0h-3zM721 243.6h3v5.2h-3zM732 236.1h3v20.9h-3zM743 249.6h3v5.2h-3zM751 253.6h3v7.9h-3zM755 260.8h3v3.7h-3zM758 264.1h3v17.4h-3zM777 263.5h3v8.1h-3zM781 271.3h3v16.2h-3zM799 252.6h3v2.5h-3zM803 254.5h3v4.8h-3zM807 259.0h3v15.0h-3zM810 273.1h3v6.9h-3zM814 279.5h3v1.0h-3zM825 262.8h3v15.0h-3zM833 276.3h3v1.2h-3zM837 276.3h3v7.5h-3zM840 283.0h3v9.7h-3zM844 292.0h3v6.7h-3zM855 273.3h3v1.5h-3zM859 274.0h3v12.7h-3zM877 265.1h3v10.5h-3zM889 262.8h3v5.2h-3zM892 267.6h3v1.2h-3zM900 259.8h3v1.8h-3zM930 155.9h3v6.7h-3zM941 77.4h3v10.5h-3zM959 66.9h3v55.3h-3zM963 122.0h3v6.3h-3zM967 127.5h3v1.0h-3zM978 114.0h3v18.0h-3zM985 130.1h3v5.7h-3zM989 135.7h3v11.2h-3zM993 146.5h3v10.1h-3zM997 156.2h3v28.9h-3zM1008 140.2h3v16.5h-3zM1019 100.6h3v6.7h-3zM1023 107.0h3v10.0h-3zM1026 116.3h3v6.7h-3zM1030 122.3h3v9.0h-3zM1041 108.1h3v29.9h-3zM1045 132.4h3v1.5h-3zM1052 133.5h3v3.4h-3zM1056 136.9h3v4.0h-3zM1060 140.5h3v31.1h-3zM1067 157.4h3v15.7h-3zM1075 138.7h3v6.0h-3zM1079 142.4h3v3.0h-3zM1082 144.7h3v27.7h-3zM1090 147.7h3v7.5h-3zM1093 154.7h3v1.2h-3zM1097 155.3h3v23.2h-3zM1101 177.8h3v1.5h-3zM1105 177.8h3v6.0h-3zM1108 183.8h3v3.0h-3zM1116 171.1h3v3.7h-3zM1119 174.5h3v7.0h-3zM1127 177.5h3v1.0h-3zM1138 154.2h3v4.5h-3zM1157 131.4h3v18.0h-3z" fill="#ef5350"/>
</g>
<path d="M938.1 50.5H1264.2" stroke="#0000ff" stroke-width="3" stroke-dasharray="14.6 17.86" fill="none"/>
<path d="M889.2 191H1264.2" stroke="#0000ff" stroke-width="3" stroke-dasharray="14.6 17.86" fill="none"/>
<path d="M947.5 50.5L1158.5 153.5" stroke="#1d3a76" stroke-width="3.5" fill="none" stroke-linecap="round"/>
<path d="M1041 53H1126.5a7.5 7.5 0 0 1 7.5 7.5V77.3a7.5 7.5 0 0 1 -7.5 7.5H1041a7.5 7.5 0 0 1 -7.5 -7.5V76.8L1006.8 75.4L1033.5 60.8V60.5a7.5 7.5 0 0 1 7.5 -7.5z" fill="#fff" stroke="#a83838" stroke-width="1.7" stroke-linejoin="round"/>
<text x="1043" y="72.7" font-size="12" fill="#a83838" stroke="#a83838" stroke-width="0.2" textLength="80" lengthAdjust="spacingAndGlyphs">Downtrend line</text>
<circle cx="1161.6" cy="538.9" r="11.5" fill="#fff"/>
<g fill="none" stroke="#9c27b0" stroke-width="1.9" stroke-linecap="round"><path d="M1164.6 529.8A9.5 9.5 0 1 0 1170.7 536.2" stroke-opacity="0.85"/></g>
<path d="M1164.2 533.2L1157.8 539.6H1161.4L1159.0 544.6L1165.4 538.2H1161.8z" fill="#9c27b0"/>
<circle cx="1168.4" cy="532.5" r="2.5" fill="#f23645"/>
<g clip-path="url(#cpRsi)">
<clipPath id="cpOB"><rect x="6" y="553" width="1257.5" height="69.7"/></clipPath>
<path d="M6.2 645.3L11.1 618.7L14.9 607.6L18.9 587.6L22.2 599.8L26.2 585.3L30.0 574.2L33.3 566.4L37.3 589.8L41.1 585.3L45.1 590.2L48.4 589.8L52.2 580.9L56.0 573.1L59.6 574.2L63.3 584.2L67.1 589.8L70.7 593.8L74.4 589.8L78.2 586.4L81.8 575.3L85.6 572.0L89.3 566.4L92.9 560.9L96.0 577.6L100.0 606.4L104.0 618.7L107.8 612.0L111.8 605.3L115.1 606.4L118.9 643.1L122.2 636.0L126.2 634.7L130.0 639.1L133.8 635.3L137.3 636.9L141.1 634.7L144.9 632.4L148.4 628.7L152.2 653.8L156.0 659.8L159.6 656.4L163.3 659.8L167.1 664.2L170.7 658.7L174.4 653.8L178.2 656.0L182.2 672.0L185.6 672.4L189.3 668.7L193.3 677.6L197.3 682.0L201.1 678.7L204.4 652.0L208.2 646.4L211.8 642.0L215.6 646.4L219.3 649.3L222.9 647.6L226.7 667.6L230.4 656.4L234.4 668.7L237.8 656.4L241.6 640.9L245.3 649.3L248.9 647.6L252.7 636.4L256.2 610.2L260.0 606.4L263.8 604.9L267.8 607.6L271.6 643.1L275.1 634.2L278.9 630.9L282.7 630.9L286.2 636.4L290.0 638.7L294.0 638.7L297.8 648.7L301.6 646.4L305.1 646.4L308.9 645.3L312.2 639.8L316.2 652.0L320.0 672.0L323.8 697.6L327.1 685.3L331.1 697.6L335.1 706.4L338.9 710.2L342.7 702.7L346.0 699.1L349.6 700.9L353.3 697.6L357.1 698.7L360.7 688.7L364.4 678.7L368.2 660.9L372.2 658.2L376.0 662.0L379.6 672.0L383.3 680.9L387.1 662.0L390.7 667.6L394.4 679.1L398.2 679.1L401.8 678.2L405.6 705.3L409.3 699.8L413.3 708.7L416.7 709.3L420.4 713.1L424.0 705.3L428.2 639.8L431.6 677.6L435.1 674.2L438.9 672.0L442.9 665.3L446.7 678.2L450.0 682.0L453.8 692.0L457.8 698.7L461.6 687.6L465.1 682.7L468.9 680.4L472.7 674.2L476.2 670.9L480.0 676.9L483.8 674.2L487.3 678.2L491.1 658.2L494.9 667.1L498.4 670.9L502.2 672.4L506.0 667.1L509.6 665.8L513.3 665.8L517.1 674.7L520.7 676.4L524.4 688.7L528.2 694.2L531.8 694.7L535.6 698.7L539.3 692.0L543.3 702.7L547.1 696.4L550.7 688.0L554.4 685.3L558.2 705.8L561.8 708.0L566.0 716.4L569.6 683.1L572.9 689.8L576.7 683.6L580.0 669.8L584.4 673.1L588.2 673.1L591.8 677.6L595.6 678.2L599.3 679.8L602.9 680.4L606.7 676.4L610.4 677.6L614.0 676.4L617.8 656.9L621.6 656.0L625.1 658.7L628.9 662.7L632.7 660.9L636.2 652.0L640.0 645.3L643.8 658.2L647.3 666.4L651.1 662.7L654.9 663.1L658.4 667.6L662.2 675.3L666.0 680.4L669.6 674.2L673.3 680.4L677.1 642.7L680.7 640.4L684.4 624.9L688.2 646.4L691.8 628.7L695.6 624.2L699.3 630.9L702.9 658.7L706.7 659.8L710.4 663.1L714.0 653.8L717.8 660.9L721.6 664.9L725.6 659.8L729.3 654.7L732.9 676.0L736.7 671.6L740.4 669.3L744.0 673.8L747.8 673.1L751.6 680.4L755.1 685.3L758.9 699.8L762.7 693.8L766.2 692.0L770.0 688.0L773.8 678.2L777.3 685.3L781.6 702.0L785.1 687.6L788.4 684.2L792.2 667.6L796.7 658.7L800.4 660.9L804.0 669.8L807.8 682.0L811.6 689.3L815.1 690.9L818.9 683.1L822.2 670.2L826.0 684.2L829.6 681.3L833.3 683.1L837.1 692.0L840.7 699.8L844.4 706.4L848.4 676.4L852.2 670.9L855.6 671.6L859.3 684.9L862.9 677.6L866.7 669.8L870.0 667.6L874.4 660.9L878.2 673.1L881.8 662.0L885.6 657.6L889.3 665.3L892.9 665.8L896.7 656.0L900.4 655.3L904.4 648.0L908.2 629.8L911.8 614.2L915.6 601.3L919.3 600.4L922.9 595.3L926.2 588.7L930.0 597.6L933.8 592.0L937.8 576.9L941.6 588.0L945.1 587.6L948.9 586.4L952.7 584.2L956.7 584.2L959.6 639.8L963.3 643.6L967.1 644.2L971.1 642.0L974.9 637.6L978.4 652.0L982.2 651.6L986.0 656.0L990.0 665.3L993.8 673.1L997.1 692.4L1000.7 673.1L1004.9 660.9L1008.9 671.6L1012.2 667.6L1016.0 642.0L1019.6 644.9L1023.3 650.9L1027.1 655.3L1030.7 662.0L1034.4 650.9L1038.2 649.8L1041.8 670.9L1045.6 670.9L1049.3 668.0L1052.9 669.8L1057.3 673.8L1060.7 693.1L1064.4 683.1L1067.8 691.6L1071.6 668.0L1075.1 669.8L1079.3 673.1L1082.7 687.6L1086.7 673.1L1090.4 676.0L1094.0 676.9L1097.8 689.8L1101.6 690.9L1105.1 694.2L1108.9 696.0L1112.7 682.0L1116.2 683.1L1120.0 688.7L1123.8 686.4L1127.3 686.4L1131.1 676.4L1134.9 664.2L1138.4 666.4L1142.2 661.3L1146.0 654.7L1149.6 647.6L1153.3 645.3L1157.1 660.9L1161.1 659.8L1161.1 622.7L6.2 622.7z" fill="url(#gOB)" clip-path="url(#cpOB)"/>
<path d="M6.2 680.9C7.8 678.3 12.3 670.5 15.6 665.3C18.8 660.1 22.2 656.4 25.6 649.8C28.9 643.1 32.4 632.6 35.6 625.3C38.7 618.1 41.3 611.4 44.4 606.4C47.6 601.4 51.1 598.9 54.4 595.3C57.8 591.7 60.9 586.9 64.4 584.9C68.0 582.9 72.0 583.8 75.6 583.6C79.1 583.3 82.2 584.2 85.6 583.6C88.9 582.9 92.4 579.7 95.6 579.8C98.7 579.9 101.3 582.4 104.4 584.2C107.6 586.1 110.7 587.7 114.4 590.9C118.1 594.0 122.8 598.9 126.7 603.1C130.6 607.4 134.4 612.7 137.8 616.4C141.1 620.1 143.3 622.4 146.7 625.3C150.0 628.3 154.4 631.2 157.8 634.2C161.1 637.3 163.3 641.3 166.7 643.6C170.0 645.8 174.1 645.6 177.8 647.6C181.5 649.5 185.0 652.4 188.9 655.3C192.8 658.3 197.0 664.0 201.1 665.3C205.2 666.6 209.1 663.9 213.3 663.1C217.6 662.3 222.6 660.8 226.7 660.4C230.7 660.1 234.1 661.6 237.8 660.9C241.5 660.1 245.2 658.2 248.9 656.0C252.6 653.8 256.3 650.3 260.0 647.6C263.7 644.9 267.4 642.2 271.1 639.8C274.8 637.4 279.1 634.7 282.2 633.1C285.4 631.5 286.7 630.8 290.0 630.2C293.3 629.7 298.5 628.8 302.2 629.8C305.9 630.7 308.7 633.0 312.2 636.0C315.7 639.0 319.6 643.2 323.3 647.6C327.0 651.9 330.7 657.4 334.4 662.0C338.1 666.6 341.9 671.3 345.6 675.3C349.3 679.4 353.5 683.7 356.7 686.4C359.8 689.2 362.2 691.0 364.4 692.0C366.7 693.0 367.6 693.0 370.0 692.4C372.4 691.9 376.3 689.9 378.9 688.7C381.5 687.5 383.0 686.9 385.6 685.3C388.1 683.7 391.5 680.6 394.4 679.1C397.4 677.6 400.4 676.6 403.3 676.4C406.3 676.3 408.9 676.6 412.2 678.2C415.6 679.9 419.6 685.2 423.3 686.4C427.0 687.7 430.7 685.8 434.4 685.8C438.1 685.8 441.9 686.2 445.6 686.4C449.3 686.7 453.0 687.7 456.7 687.1C460.4 686.5 464.1 684.3 467.8 682.7C471.5 681.1 475.2 678.1 478.9 677.6C482.6 677.0 486.3 679.1 490.0 679.1C493.7 679.1 497.4 678.6 501.1 677.6C504.8 676.6 509.3 674.2 512.2 673.1C515.2 672.0 516.3 670.9 518.9 670.9C521.5 670.9 524.4 672.0 527.8 673.1C531.1 674.2 535.2 675.9 538.9 677.6C542.6 679.2 546.3 680.9 550.0 683.1C553.7 685.3 557.8 688.9 561.1 690.9C564.4 692.9 567.0 694.8 570.0 695.3C573.0 695.9 575.7 695.1 578.9 694.2C582.0 693.4 585.7 691.4 588.9 690.2C592.0 689.0 594.8 688.0 597.8 687.1C600.7 686.2 603.3 686.5 606.7 684.9C610.0 683.3 614.4 679.7 617.8 677.6C621.1 675.4 623.7 673.4 626.7 672.0C629.6 670.6 632.2 670.6 635.6 669.3C638.9 668.0 643.3 665.4 646.7 664.2C650.0 663.0 652.6 662.4 655.6 662.0C658.5 661.6 661.3 661.5 664.4 662.0C667.6 662.5 671.1 665.3 674.4 664.9C677.8 664.5 681.7 660.8 684.4 659.8C687.2 658.7 688.5 659.8 691.1 658.7C693.7 657.6 696.7 654.2 700.0 653.1C703.3 652.0 707.8 652.6 711.1 652.0C714.4 651.4 717.4 650.1 720.0 649.3C722.6 648.6 724.8 647.7 726.7 647.6C728.5 647.4 729.6 647.7 731.1 648.7C732.6 649.6 733.7 651.8 735.6 653.1C737.4 654.4 739.6 654.4 742.2 656.4C744.8 658.5 748.5 663.3 751.1 665.3C753.7 667.4 755.2 667.0 757.8 668.7C760.4 670.3 763.7 673.5 766.7 675.3C769.6 677.2 772.6 678.2 775.6 679.8C778.5 681.4 781.5 684.0 784.4 684.9C787.4 685.7 790.4 685.2 793.3 684.9C796.3 684.6 798.9 683.7 802.2 683.1C805.6 682.5 809.6 681.8 813.3 681.3C817.0 680.9 820.7 680.9 824.4 680.4C828.1 680.0 831.9 678.2 835.6 678.7C839.3 679.1 843.0 682.1 846.7 683.1C850.4 684.1 854.1 685.2 857.8 684.9C861.5 684.6 865.4 682.4 868.9 681.3C872.4 680.3 875.7 679.9 878.9 678.7C882.0 677.5 884.8 676.1 887.8 674.2C890.7 672.4 893.7 669.2 896.7 667.6C899.6 665.9 902.6 666.4 905.6 664.2C908.5 662.0 911.5 657.9 914.4 654.2C917.4 650.5 920.0 646.8 923.3 642.0C926.7 637.2 930.7 630.9 934.4 625.3C938.1 619.8 942.2 613.5 945.6 608.7C948.9 603.9 952.2 598.8 954.4 596.4C956.7 594.1 957.0 594.3 958.9 594.7C960.7 595.0 963.0 596.9 965.6 598.7C968.1 600.4 971.5 602.6 974.4 605.3C977.4 608.1 980.4 611.6 983.3 615.3C986.3 619.0 989.6 623.3 992.2 627.6C994.8 631.8 996.7 637.0 998.9 640.9C1001.1 644.8 1003.3 647.9 1005.6 650.9C1007.8 653.9 1009.6 657.6 1012.2 659.1C1014.8 660.6 1017.8 659.3 1021.1 659.8C1024.4 660.3 1028.1 661.7 1032.2 662.0C1036.3 662.3 1042.2 661.7 1045.6 661.3C1048.9 661.0 1049.3 659.6 1052.2 659.8C1055.2 660.0 1059.6 661.2 1063.3 662.7C1067.0 664.1 1071.1 666.9 1074.4 668.7C1077.8 670.4 1080.0 671.6 1083.3 673.1C1086.7 674.6 1090.7 676.1 1094.4 677.6C1098.1 679.0 1102.2 681.1 1105.6 682.0C1108.9 682.9 1111.1 682.2 1114.4 682.7C1117.8 683.1 1121.9 684.9 1125.6 684.9C1129.3 684.9 1133.3 683.5 1136.7 682.7C1140.0 681.8 1142.6 681.4 1145.6 679.8C1148.5 678.2 1151.9 675.0 1154.4 673.1C1157.0 671.3 1160.0 669.4 1161.1 668.7" stroke="#fbd65a" stroke-width="1.5" fill="none" stroke-opacity="0.9"/>
<path d="M6.2 645.3L11.1 618.7L14.9 607.6L18.9 587.6L22.2 599.8L26.2 585.3L30.0 574.2L33.3 566.4L37.3 589.8L41.1 585.3L45.1 590.2L48.4 589.8L52.2 580.9L56.0 573.1L59.6 574.2L63.3 584.2L67.1 589.8L70.7 593.8L74.4 589.8L78.2 586.4L81.8 575.3L85.6 572.0L89.3 566.4L92.9 560.9L96.0 577.6L100.0 606.4L104.0 618.7L107.8 612.0L111.8 605.3L115.1 606.4L118.9 643.1L122.2 636.0L126.2 634.7L130.0 639.1L133.8 635.3L137.3 636.9L141.1 634.7L144.9 632.4L148.4 628.7L152.2 653.8L156.0 659.8L159.6 656.4L163.3 659.8L167.1 664.2L170.7 658.7L174.4 653.8L178.2 656.0L182.2 672.0L185.6 672.4L189.3 668.7L193.3 677.6L197.3 682.0L201.1 678.7L204.4 652.0L208.2 646.4L211.8 642.0L215.6 646.4L219.3 649.3L222.9 647.6L226.7 667.6L230.4 656.4L234.4 668.7L237.8 656.4L241.6 640.9L245.3 649.3L248.9 647.6L252.7 636.4L256.2 610.2L260.0 606.4L263.8 604.9L267.8 607.6L271.6 643.1L275.1 634.2L278.9 630.9L282.7 630.9L286.2 636.4L290.0 638.7L294.0 638.7L297.8 648.7L301.6 646.4L305.1 646.4L308.9 645.3L312.2 639.8L316.2 652.0L320.0 672.0L323.8 697.6L327.1 685.3L331.1 697.6L335.1 706.4L338.9 710.2L342.7 702.7L346.0 699.1L349.6 700.9L353.3 697.6L357.1 698.7L360.7 688.7L364.4 678.7L368.2 660.9L372.2 658.2L376.0 662.0L379.6 672.0L383.3 680.9L387.1 662.0L390.7 667.6L394.4 679.1L398.2 679.1L401.8 678.2L405.6 705.3L409.3 699.8L413.3 708.7L416.7 709.3L420.4 713.1L424.0 705.3L428.2 639.8L431.6 677.6L435.1 674.2L438.9 672.0L442.9 665.3L446.7 678.2L450.0 682.0L453.8 692.0L457.8 698.7L461.6 687.6L465.1 682.7L468.9 680.4L472.7 674.2L476.2 670.9L480.0 676.9L483.8 674.2L487.3 678.2L491.1 658.2L494.9 667.1L498.4 670.9L502.2 672.4L506.0 667.1L509.6 665.8L513.3 665.8L517.1 674.7L520.7 676.4L524.4 688.7L528.2 694.2L531.8 694.7L535.6 698.7L539.3 692.0L543.3 702.7L547.1 696.4L550.7 688.0L554.4 685.3L558.2 705.8L561.8 708.0L566.0 716.4L569.6 683.1L572.9 689.8L576.7 683.6L580.0 669.8L584.4 673.1L588.2 673.1L591.8 677.6L595.6 678.2L599.3 679.8L602.9 680.4L606.7 676.4L610.4 677.6L614.0 676.4L617.8 656.9L621.6 656.0L625.1 658.7L628.9 662.7L632.7 660.9L636.2 652.0L640.0 645.3L643.8 658.2L647.3 666.4L651.1 662.7L654.9 663.1L658.4 667.6L662.2 675.3L666.0 680.4L669.6 674.2L673.3 680.4L677.1 642.7L680.7 640.4L684.4 624.9L688.2 646.4L691.8 628.7L695.6 624.2L699.3 630.9L702.9 658.7L706.7 659.8L710.4 663.1L714.0 653.8L717.8 660.9L721.6 664.9L725.6 659.8L729.3 654.7L732.9 676.0L736.7 671.6L740.4 669.3L744.0 673.8L747.8 673.1L751.6 680.4L755.1 685.3L758.9 699.8L762.7 693.8L766.2 692.0L770.0 688.0L773.8 678.2L777.3 685.3L781.6 702.0L785.1 687.6L788.4 684.2L792.2 667.6L796.7 658.7L800.4 660.9L804.0 669.8L807.8 682.0L811.6 689.3L815.1 690.9L818.9 683.1L822.2 670.2L826.0 684.2L829.6 681.3L833.3 683.1L837.1 692.0L840.7 699.8L844.4 706.4L848.4 676.4L852.2 670.9L855.6 671.6L859.3 684.9L862.9 677.6L866.7 669.8L870.0 667.6L874.4 660.9L878.2 673.1L881.8 662.0L885.6 657.6L889.3 665.3L892.9 665.8L896.7 656.0L900.4 655.3L904.4 648.0L908.2 629.8L911.8 614.2L915.6 601.3L919.3 600.4L922.9 595.3L926.2 588.7L930.0 597.6L933.8 592.0L937.8 576.9L941.6 588.0L945.1 587.6L948.9 586.4L952.7 584.2L956.7 584.2L959.6 639.8L963.3 643.6L967.1 644.2L971.1 642.0L974.9 637.6L978.4 652.0L982.2 651.6L986.0 656.0L990.0 665.3L993.8 673.1L997.1 692.4L1000.7 673.1L1004.9 660.9L1008.9 671.6L1012.2 667.6L1016.0 642.0L1019.6 644.9L1023.3 650.9L1027.1 655.3L1030.7 662.0L1034.4 650.9L1038.2 649.8L1041.8 670.9L1045.6 670.9L1049.3 668.0L1052.9 669.8L1057.3 673.8L1060.7 693.1L1064.4 683.1L1067.8 691.6L1071.6 668.0L1075.1 669.8L1079.3 673.1L1082.7 687.6L1086.7 673.1L1090.4 676.0L1094.0 676.9L1097.8 689.8L1101.6 690.9L1105.1 694.2L1108.9 696.0L1112.7 682.0L1116.2 683.1L1120.0 688.7L1123.8 686.4L1127.3 686.4L1131.1 676.4L1134.9 664.2L1138.4 666.4L1142.2 661.3L1146.0 654.7L1149.6 647.6L1153.3 645.3L1157.1 660.9L1161.1 659.8" stroke="#7e57c2" stroke-width="3" fill="none" stroke-linejoin="round" stroke-linecap="round"/>
</g>
<text y="15.6" font-size="11.5" fill="#131722" stroke="#131722" stroke-width="0.25"><tspan x="6.2" textLength="58.3" lengthAdjust="spacingAndGlyphs">ranadagger</tspan> <tspan x="68.5" textLength="39.8" lengthAdjust="spacingAndGlyphs">created</tspan> <tspan x="112.8" textLength="22.4" lengthAdjust="spacingAndGlyphs">with</tspan> <tspan x="139.7" textLength="91.3" lengthAdjust="spacingAndGlyphs">TradingView.com,</tspan> <tspan x="236.5" textLength="17.3" lengthAdjust="spacingAndGlyphs">Sep</tspan> <tspan x="258.7" textLength="15.3" lengthAdjust="spacingAndGlyphs">15,</tspan> <tspan x="279.4" textLength="24.3" lengthAdjust="spacingAndGlyphs">2025</tspan> <tspan x="308.6" textLength="27.1" lengthAdjust="spacingAndGlyphs">16:10</tspan> <tspan x="340.3" textLength="20.7" lengthAdjust="spacingAndGlyphs">UTC</tspan></text>
<text x="13.8" y="41.8" font-size="12" fill="#131722" textLength="157.5" lengthAdjust="spacingAndGlyphs">XRP / TetherUS · 1D · Binance</text>
<text x="179.1" y="41.8" font-size="12" fill="#131722" textLength="42.4" lengthAdjust="spacingAndGlyphs">O<tspan fill="#26a69a">3.0280</tspan></text>
<text x="229.8" y="41.8" font-size="12" fill="#131722" textLength="41.9" lengthAdjust="spacingAndGlyphs">H<tspan fill="#26a69a">3.0669</tspan></text>
<text x="279.6" y="41.8" font-size="12" fill="#131722" textLength="40.4" lengthAdjust="spacingAndGlyphs">L<tspan fill="#26a69a">2.9532</tspan></text>
<text x="328" y="41.8" font-size="12" fill="#131722" textLength="40.7" lengthAdjust="spacingAndGlyphs">C<tspan fill="#26a69a">3.0331</tspan></text>
<text x="377.8" y="41.8" font-size="12" fill="#26a69a" textLength="39.9" lengthAdjust="spacingAndGlyphs">+0.0052</text>
<text x="422.5" y="41.8" font-size="12" fill="#26a69a" textLength="44.3" lengthAdjust="spacingAndGlyphs">(+0.17%)</text>
<text x="13.8" y="59" font-size="12" fill="#131722" textLength="80.5" lengthAdjust="spacingAndGlyphs">EMA (20, close)</text>
<text x="101.7" y="59" font-size="12" fill="#2962ff" textLength="35.2" lengthAdjust="spacingAndGlyphs">2.9722</text>
<text x="13.8" y="76.2" font-size="12" fill="#131722" textLength="80" lengthAdjust="spacingAndGlyphs">SMA (50, close)</text>
<text x="101.7" y="76.2" font-size="12" fill="#f23645" textLength="34.6" lengthAdjust="spacingAndGlyphs">3.0039</text>
<text x="13.8" y="570.9" font-size="12" fill="#131722" textLength="75" lengthAdjust="spacingAndGlyphs">RSI (14, close)</text>
<text x="96" y="570.9" font-size="12" fill="#7e57c2" textLength="29" lengthAdjust="spacingAndGlyphs">54.40</text>
<text x="132" y="570.9" font-size="12" fill="#fdd835" textLength="29" lengthAdjust="spacingAndGlyphs">50.82</text>
<text x="1272.5" y="94.1" font-size="12.4" fill="#131722" textLength="34.6" lengthAdjust="spacingAndGlyphs">3.4000</text>
<text x="1272.5" y="124.3" font-size="12.4" fill="#131722" textLength="34.6" lengthAdjust="spacingAndGlyphs">3.2000</text>
<text x="1272.5" y="245.6" font-size="12.4" fill="#131722" textLength="34.6" lengthAdjust="spacingAndGlyphs">2.4000</text>
<text x="1272.5" y="275.8" font-size="12.4" fill="#131722" textLength="34.6" lengthAdjust="spacingAndGlyphs">2.2000</text>
<text x="1272.5" y="306.1" font-size="12.4" fill="#131722" textLength="34.6" lengthAdjust="spacingAndGlyphs">2.0000</text>
<text x="1272.5" y="336.4" font-size="12.4" fill="#131722" textLength="34.6" lengthAdjust="spacingAndGlyphs">1.8000</text>
<text x="1272.5" y="366.7" font-size="12.4" fill="#131722" textLength="34.6" lengthAdjust="spacingAndGlyphs">1.6000</text>
<text x="1272.5" y="397.1" font-size="12.4" fill="#131722" textLength="34.6" lengthAdjust="spacingAndGlyphs">1.4000</text>
<text x="1272.5" y="427.3" font-size="12.4" fill="#131722" textLength="34.6" lengthAdjust="spacingAndGlyphs">1.2000</text>
<text x="1272.5" y="457.6" font-size="12.4" fill="#131722" textLength="34.6" lengthAdjust="spacingAndGlyphs">1.0000</text>
<text x="1272.5" y="487.9" font-size="12.4" fill="#131722" textLength="34.6" lengthAdjust="spacingAndGlyphs">0.8000</text>
<text x="1272.5" y="518.2" font-size="12.4" fill="#131722" textLength="34.6" lengthAdjust="spacingAndGlyphs">0.6000</text>
<text x="1272.5" y="548.5" font-size="12.4" fill="#131722" textLength="34.6" lengthAdjust="spacingAndGlyphs">0.4000</text>
<g><clipPath id="cp36"><rect x="1264" y="58.5" width="66" height="12"/></clipPath><text x="1272.5" y="63.7" font-size="12.4" fill="#131722" textLength="34.6" lengthAdjust="spacingAndGlyphs" clip-path="url(#cp36)">3.6000</text></g>
<text x="1272.5" y="602.8" font-size="12.4" fill="#131722" textLength="29" lengthAdjust="spacingAndGlyphs">80.00</text>
<text x="1272.5" y="651.4" font-size="12.4" fill="#131722" textLength="29" lengthAdjust="spacingAndGlyphs">60.00</text>
<text x="1272.5" y="700.0" font-size="12.4" fill="#131722" textLength="29" lengthAdjust="spacingAndGlyphs">40.00</text>
<rect x="1264" y="57" width="48.3" height="1.4" fill="#0000ff"/>
<rect x="1267.5" y="27.5" width="58" height="25" rx="4" fill="#fff" stroke="#e9eaec" stroke-width="1"/>
<text x="1276" y="45" font-size="12" fill="#131722" textLength="27" lengthAdjust="spacingAndGlyphs">USDT</text>
<path d="M1209.8 137.6H1264V154.1H1209.8a2.5 2.5 0 0 1 -2.5 -2.5V140.1a2.5 2.5 0 0 1 2.5 -2.5z" fill="#26a69a"/>
<text x="1211.5" y="150.3" font-size="12" fill="#fff" textLength="47" lengthAdjust="spacingAndGlyphs" stroke="#fff" stroke-width="0.3">XRPUSDT</text>
<path d="M1264 137.6H1323.5a2.5 2.5 0 0 1 2.5 2.5V179.1a2.5 2.5 0 0 1 -2.5 2.5H1264z" fill="#26a69a"/>
<text x="1272.4" y="150.3" font-size="12" fill="#fff" textLength="34.6" lengthAdjust="spacingAndGlyphs" stroke="#fff" stroke-width="0.3">3.0331</text>
<text x="1272.4" y="164.3" font-size="12" fill="#fff" textLength="48.5" lengthAdjust="spacingAndGlyphs" stroke="#fff" stroke-width="0.3">+447.79%</text>
<text x="1272.4" y="177.8" font-size="12" fill="#fff" textLength="46" lengthAdjust="spacingAndGlyphs" fill-opacity="0.85" stroke="#fff" stroke-width="0.3">07:50:00</text>
<path d="M1216.8 182H1264V198H1216.8a2.5 2.5 0 0 1 -2.5 -2.5V184.5a2.5 2.5 0 0 1 2.5 -2.5z" fill="#f23645"/>
<text x="1219" y="194.5" font-size="12" fill="#fff" textLength="40.5" lengthAdjust="spacingAndGlyphs" stroke="#fff" stroke-width="0.3">SMA:MA</text>
<path d="M1264 182H1309.8a2.5 2.5 0 0 1 2.5 2.5V195.5a2.5 2.5 0 0 1 -2.5 2.5H1264z" fill="#f23645"/>
<text x="1272.4" y="194.5" font-size="12" fill="#fff" textLength="34.6" lengthAdjust="spacingAndGlyphs" stroke="#fff" stroke-width="0.3">3.0039</text>
<path d="M1235.5 199H1264V215H1235.5a2.5 2.5 0 0 1 -2.5 -2.5V201.5a2.5 2.5 0 0 1 2.5 -2.5z" fill="#2962ff"/>
<text x="1238" y="211.3" font-size="12" fill="#fff" textLength="22" lengthAdjust="spacingAndGlyphs" stroke="#fff" stroke-width="0.3">EMA</text>
<path d="M1264 199H1309.8a2.5 2.5 0 0 1 2.5 2.5V212.5a2.5 2.5 0 0 1 -2.5 2.5H1264z" fill="#2962ff"/>
<text x="1272.4" y="211.3" font-size="12" fill="#fff" textLength="34.6" lengthAdjust="spacingAndGlyphs" stroke="#fff" stroke-width="0.3">2.9722</text>
<path d="M1264 215.7H1309.8a2.5 2.5 0 0 1 2.5 2.5V229.2a2.5 2.5 0 0 1 -2.5 2.5H1264z" fill="#0000ff"/>
<text x="1272.4" y="228" font-size="12" fill="#fff" textLength="34.6" lengthAdjust="spacingAndGlyphs" stroke="#fff" stroke-width="0.3">2.7300</text>
<path d="M1241.5 653.2H1264V668.9H1241.5a2.5 2.5 0 0 1 -2.5 -2.5V655.7a2.5 2.5 0 0 1 2.5 -2.5z" fill="#7e57c2"/>
<text x="1244" y="665.3" font-size="12" fill="#fff" textLength="15.5" lengthAdjust="spacingAndGlyphs" stroke="#fff" stroke-width="0.3">RSI</text>
<path d="M1264 653.2H1304.0a2.5 2.5 0 0 1 2.5 2.5V666.4a2.5 2.5 0 0 1 -2.5 2.5H1264z" fill="#7e57c2"/>
<text x="1272.4" y="665.3" font-size="12" fill="#fff" textLength="29" lengthAdjust="spacingAndGlyphs" stroke="#fff" stroke-width="0.3">54.40</text>
<path d="M1188.5 669.6H1264V686H1188.5a2.5 2.5 0 0 1 -2.5 -2.5V672.1a2.5 2.5 0 0 1 2.5 -2.5z" fill="#fdd835"/>
<text x="1190.5" y="682" font-size="12" fill="#131722" textLength="69" lengthAdjust="spacingAndGlyphs">RSI-based MA</text>
<path d="M1264 669.6H1304.0a2.5 2.5 0 0 1 2.5 2.5V683.5a2.5 2.5 0 0 1 -2.5 2.5H1264z" fill="#fdd835"/>
<text x="1272.4" y="682" font-size="12" fill="#131722" textLength="29" lengthAdjust="spacingAndGlyphs">50.82</text>
<path d="M1263.6 137.6V231.7M1263.6 653.2V686" stroke="#fff" stroke-opacity="0.45" stroke-width="0.9" fill="none"/>
<text x="88.5" y="747.4" font-size="11.3" fill="#131722" text-anchor="middle">Dec</text>
<text x="203.5" y="747.4" font-size="11.3" fill="#131722" text-anchor="middle" font-weight="bold">2025</text>
<text x="319.5" y="747.4" font-size="11.3" fill="#131722" text-anchor="middle">Feb</text>
<text x="423.5" y="747.4" font-size="11.3" fill="#131722" text-anchor="middle">Mar</text>
<text x="538.5" y="747.4" font-size="11.3" fill="#131722" text-anchor="middle">Apr</text>
<text x="650.5" y="747.4" font-size="11.3" fill="#131722" text-anchor="middle">May</text>
<text x="765.5" y="747.4" font-size="11.3" fill="#131722" text-anchor="middle">Jun</text>
<text x="877.5" y="747.4" font-size="11.3" fill="#131722" text-anchor="middle">Jul</text>
<text x="993.5" y="747.4" font-size="11.3" fill="#131722" text-anchor="middle">Aug</text>
<text x="1108.5" y="747.4" font-size="11.3" fill="#131722" text-anchor="middle">Sep</text>
<text x="1220.5" y="747.4" font-size="11.3" fill="#131722" text-anchor="middle">Oct</text>
<g fill="#111216"><path d="M7.8 778.8H19.9V793.2H13.6V784.8H7.8z"/><circle cx="24.8" cy="781.5" r="2.85"/><path d="M29.2 778.8H36.4L30.9 793.2H23.7z"/></g>
<text x="44.4" y="793.3" font-size="21" fill="#111216" font-weight="bold" textLength="118.6" lengthAdjust="spacingAndGlyphs">TradingView</text>
</svg>
</body></html>
